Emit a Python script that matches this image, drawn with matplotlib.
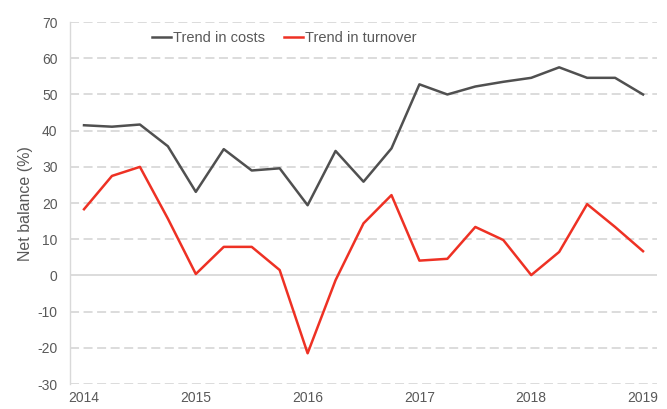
import matplotlib
matplotlib.use("Agg")
import matplotlib.pyplot as plt
import numpy as np

quarters = ["2014", "", "", "", "2015", "", "", "", "2016", "", "", "",
            "2017", "", "", "", "2018", "", "", "", "2019"]
costs = [41.5, 41.1, 41.7, 35.7, 23.1, 34.9, 29.0, 29.6, 19.4, 34.4, 25.9,
         35.1, 52.8, 50.0, 52.2, 53.5, 54.6, 57.5, 54.6, 54.6, 50.0]
turnover = [18.3, 27.5, 30.0, 15.7, 0.4, 7.9, 7.9, 1.5, -21.5, -1.3, 14.4,
            22.2, 4.1, 4.6, 13.4, 9.8, 0.1, 6.5, 19.7, 13.4, 6.7]
yticks = list(range(-30, 71, 10))

plt.rcParams['font.family'] = ['Liberation Sans', 'DejaVu Sans']
txt = '#595959'

fig = plt.figure(figsize=(6.67, 4.09), dpi=100)
ax = fig.add_axes([0.105, 0.061, 0.880, 0.885])

x = np.arange(len(quarters))
for yv in yticks:
    if yv == 0:
        ax.axhline(yv, color='#d9d9d9', lw=1.3, zorder=1)
    else:
        ax.axhline(yv, color='#d9d9d9', lw=1.3, ls=(0, (5, 2.5)), zorder=1)

ax.plot(x, costs, color='#505050', lw=1.8, label='Trend in costs', zorder=3)
ax.plot(x, turnover, color='#ee3124', lw=1.8, label='Trend in turnover', zorder=3)

ax.set_xlim(-0.5, len(quarters) - 0.5)
ax.set_ylim(-30, 70)
ax.set_yticks(yticks)
ax.set_yticklabels([str(v) for v in yticks], color=txt, fontsize=10)
tick_idx = [i for i, q in enumerate(quarters) if q]
ax.set_xticks(tick_idx)
ax.set_xticklabels([quarters[i] for i in tick_idx], color=txt, fontsize=10)
ax.tick_params(axis='x', length=0, pad=5)
ax.tick_params(axis='y', length=0, pad=9)
ax.set_ylabel('Net balance (%)', color=txt, fontsize=11.5, labelpad=3)

for s in ['top', 'right', 'bottom']:
    ax.spines[s].set_visible(False)
ax.spines['left'].set_color('#d9d9d9')
ax.spines['left'].set_linewidth(1.0)

leg = ax.legend(loc='center', bbox_to_anchor=(0.365, 0.956), ncol=2, frameon=False,
                fontsize=10.5, handlelength=1.3, handletextpad=0.15, columnspacing=1.3,
                borderpad=0, borderaxespad=0)
for t in leg.get_texts():
    t.set_color(txt)

fig.savefig('out.png', dpi=100)
